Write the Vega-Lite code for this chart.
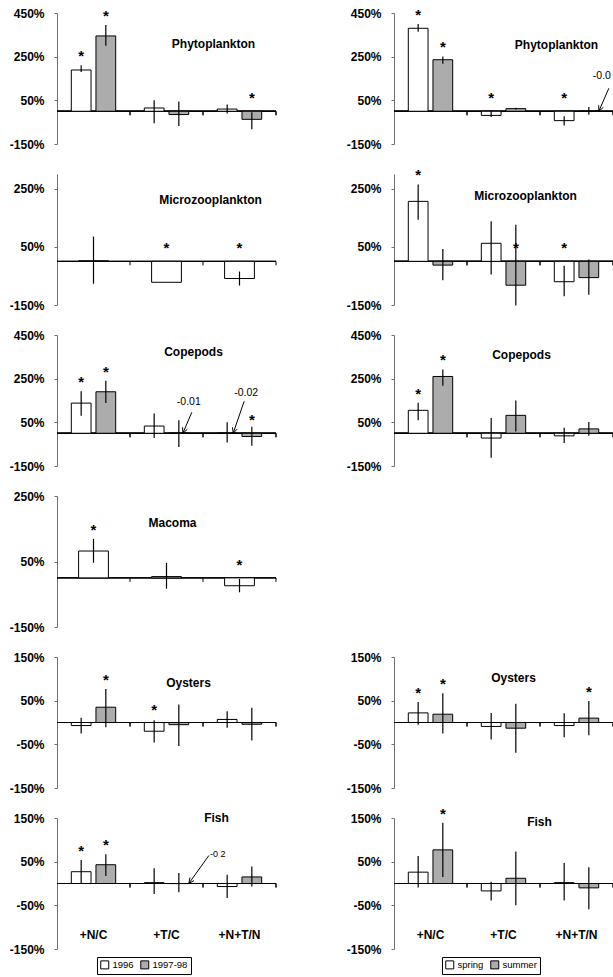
{
"$schema":"https://vega.github.io/schema/vega-lite/v6.json",
"padding":{"left":9,"top":7,"right":0,"bottom":0},
"autosize":{"type":"pad"},
"background":"white",
"config":{
 "font":"Liberation Sans",
 "view":{"stroke":null},
 "axisY":{"domainColor":"#707070","domainWidth":1,"tickColor":"#707070","tickSize":3,"labelPadding":10,"labelFontSize":12,"labelFontWeight":"bold","labelColor":"black","grid":false,"labelFlush":false,"labelOverlap":false},
 "axisX":{"domain":false,"ticks":false,"labels":false,"grid":false}
},
"datasets":{"bars":[
{"side":"L","panel":"Phyto","group":"+N/C","series":"1996","value":189,"lo":180,"hi":211,"star":1},
{"side":"L","panel":"Phyto","group":"+N/C","series":"1997-98","value":345,"lo":300,"hi":395,"star":1},
{"side":"L","panel":"Phyto","group":"+T/C","series":"1996","value":15,"lo":-55,"hi":50},
{"side":"L","panel":"Phyto","group":"+T/C","series":"1997-98","value":-15,"lo":-67,"hi":45},
{"side":"L","panel":"Phyto","group":"+N+T/N","series":"1996","value":10,"lo":-10,"hi":31},
{"side":"L","panel":"Phyto","group":"+N+T/N","series":"1997-98","value":-37,"lo":-82,"hi":-5,"star":1},
{"side":"R","panel":"Phyto","group":"+N/C","series":"spring","value":380,"lo":364,"hi":400,"star":1},
{"side":"R","panel":"Phyto","group":"+N/C","series":"summer","value":236,"lo":217,"hi":251,"star":1},
{"side":"R","panel":"Phyto","group":"+T/C","series":"spring","value":-19,"lo":-26,"hi":3,"star":1},
{"side":"R","panel":"Phyto","group":"+T/C","series":"summer","value":12,"lo":8,"hi":16},
{"side":"R","panel":"Phyto","group":"+N+T/N","series":"spring","value":-43,"lo":-65,"hi":-23,"star":1},
{"side":"R","panel":"Phyto","group":"+N+T/N","series":"summer","value":-0.01,"lo":-16,"hi":19,"note":"-0.01"},
{"side":"L","panel":"Micro","group":"+N/C","series":"1996","value":2,"lo":-77,"hi":85},
{"side":"L","panel":"Micro","group":"+T/C","series":"1996","value":-72,"lo":null,"hi":null,"star":1},
{"side":"L","panel":"Micro","group":"+N+T/N","series":"1996","value":-59,"lo":-83,"hi":-35,"star":1},
{"side":"R","panel":"Micro","group":"+N/C","series":"spring","value":206,"lo":143,"hi":264,"star":1},
{"side":"R","panel":"Micro","group":"+N/C","series":"summer","value":-13,"lo":-65,"hi":42},
{"side":"R","panel":"Micro","group":"+T/C","series":"spring","value":62,"lo":-45,"hi":138},
{"side":"R","panel":"Micro","group":"+T/C","series":"summer","value":-82,"lo":-152,"hi":126,"star":1},
{"side":"R","panel":"Micro","group":"+N+T/N","series":"spring","value":-70,"lo":-120,"hi":-15,"star":1},
{"side":"R","panel":"Micro","group":"+N+T/N","series":"summer","value":-56,"lo":-115,"hi":6},
{"side":"L","panel":"Cope","group":"+N/C","series":"1996","value":138,"lo":80,"hi":192,"star":1},
{"side":"L","panel":"Cope","group":"+N/C","series":"1997-98","value":190,"lo":138,"hi":240,"star":1},
{"side":"L","panel":"Cope","group":"+T/C","series":"1996","value":33,"lo":-22,"hi":90},
{"side":"L","panel":"Cope","group":"+T/C","series":"1997-98","value":-0.01,"lo":-63,"hi":60,"note":"-0.01"},
{"side":"L","panel":"Cope","group":"+N+T/N","series":"1996","value":-0.02,"lo":-42,"hi":50,"note":"-0.02"},
{"side":"L","panel":"Cope","group":"+N+T/N","series":"1997-98","value":-15,"lo":-57,"hi":30,"star":1},
{"side":"R","panel":"Cope","group":"+N/C","series":"spring","value":105,"lo":60,"hi":140,"star":1},
{"side":"R","panel":"Cope","group":"+N/C","series":"summer","value":260,"lo":218,"hi":292,"star":1},
{"side":"R","panel":"Cope","group":"+T/C","series":"spring","value":-22,"lo":-112,"hi":70},
{"side":"R","panel":"Cope","group":"+T/C","series":"summer","value":82,"lo":8,"hi":150},
{"side":"R","panel":"Cope","group":"+N+T/N","series":"spring","value":-12,"lo":-45,"hi":25},
{"side":"R","panel":"Cope","group":"+N+T/N","series":"summer","value":20,"lo":-12,"hi":52},
{"side":"L","panel":"Macoma","group":"+N/C","series":"1996","value":82,"lo":46,"hi":119,"star":1},
{"side":"L","panel":"Macoma","group":"+T/C","series":"1996","value":4,"lo":-33,"hi":46},
{"side":"L","panel":"Macoma","group":"+N+T/N","series":"1996","value":-24,"lo":-44,"hi":-3,"star":1},
{"side":"L","panel":"Oysters","group":"+N/C","series":"1996","value":-7,"lo":-25,"hi":11},
{"side":"L","panel":"Oysters","group":"+N/C","series":"1997-98","value":35,"lo":-11,"hi":77,"star":1},
{"side":"L","panel":"Oysters","group":"+T/C","series":"1996","value":-20,"lo":-46,"hi":5,"star":1},
{"side":"L","panel":"Oysters","group":"+T/C","series":"1997-98","value":-5,"lo":-54,"hi":41},
{"side":"L","panel":"Oysters","group":"+N+T/N","series":"1996","value":7,"lo":-12,"hi":26},
{"side":"L","panel":"Oysters","group":"+N+T/N","series":"1997-98","value":-4,"lo":-41,"hi":34},
{"side":"R","panel":"Oysters","group":"+N/C","series":"spring","value":22,"lo":-5,"hi":47,"star":1},
{"side":"R","panel":"Oysters","group":"+N/C","series":"summer","value":19,"lo":-25,"hi":67,"star":1},
{"side":"R","panel":"Oysters","group":"+T/C","series":"spring","value":-9,"lo":-39,"hi":22},
{"side":"R","panel":"Oysters","group":"+T/C","series":"summer","value":-13,"lo":-69,"hi":43},
{"side":"R","panel":"Oysters","group":"+N+T/N","series":"spring","value":-7,"lo":-34,"hi":21},
{"side":"R","panel":"Oysters","group":"+N+T/N","series":"summer","value":10,"lo":-29,"hi":49,"star":1},
{"side":"L","panel":"Fish","group":"+N/C","series":"1996","value":27,"lo":0,"hi":54,"star":1},
{"side":"L","panel":"Fish","group":"+N/C","series":"1997-98","value":43,"lo":17,"hi":67,"star":1},
{"side":"L","panel":"Fish","group":"+T/C","series":"1996","value":2,"lo":-24,"hi":35},
{"side":"L","panel":"Fish","group":"+T/C","series":"1997-98","value":-0.2,"lo":-20,"hi":24,"note":"-0 2"},
{"side":"L","panel":"Fish","group":"+N+T/N","series":"1996","value":-7,"lo":-33,"hi":20},
{"side":"L","panel":"Fish","group":"+N+T/N","series":"1997-98","value":15,"lo":-7,"hi":39},
{"side":"R","panel":"Fish","group":"+N/C","series":"spring","value":26,"lo":-9,"hi":63},
{"side":"R","panel":"Fish","group":"+N/C","series":"summer","value":77,"lo":15,"hi":139,"star":1},
{"side":"R","panel":"Fish","group":"+T/C","series":"spring","value":-17,"lo":-39,"hi":4},
{"side":"R","panel":"Fish","group":"+T/C","series":"summer","value":12,"lo":-50,"hi":73},
{"side":"R","panel":"Fish","group":"+N+T/N","series":"spring","value":2,"lo":-39,"hi":47},
{"side":"R","panel":"Fish","group":"+N+T/N","series":"summer","value":-10,"lo":-59,"hi":37}
]},
"columns":2,
"bounds":"flush",
"spacing":{"row":30,"column":118},
"resolve":{"scale":{"x":"independent","y":"independent","xOffset":"independent","fill":"independent"},"legend":{"fill":"independent"}},
"concat":[
{"width":219,"height":131,"data":{"name":"bars"},"transform":[{"filter":"datum.side=='L' && datum.panel=='Phyto'"}],
 "layer":[
  {"mark":{"type":"rule","color":"black","strokeWidth":1},"encoding":{"y":{"datum":0}}},
  {"mark":{"type":"rule","color":"black","y2Offset":4},"encoding":{"x":{"field":"group","type":"nominal","title":null,"bandPosition":1},"y":{"datum":0},"y2":{"datum":0}}},
  {"mark":{"type":"bar","stroke":"black","strokeWidth":1},"encoding":{
    "x":{"field":"group","type":"nominal","title":null,"scale":{"domain":["+N/C","+T/C","+N+T/N"],"paddingInner":0,"paddingOuter":0}},
    "xOffset":{"field":"series","type":"nominal","scale":{"domain":["1996","1997-98"],"paddingInner":0.2,"paddingOuter":0.58}},
    "y":{"field":"value","type":"quantitative","stack":null,"title":null,"scale":{"domain":[-150,450],"nice":false,"zero":false},"axis":{"values":[-150,50,250,450],"labelExpr":"datum.value + '%'"}},
    "fill":{"field":"series","type":"nominal","scale":{"domain":["1996","1997-98"],"range":["#ffffff","#acacac"]},"legend":null}}},
  {"mark":{"type":"rule","color":"black","strokeWidth":1.2},"encoding":{"x":{"field":"group","type":"nominal","title":null},"xOffset":{"field":"series","type":"nominal"},"y":{"field":"lo","type":"quantitative","title":null},"y2":{"field":"hi"}}},
  {"transform":[{"filter":"datum.star && datum.value >= 0"}],"mark":{"type":"text","text":"*","fontSize":15,"fontWeight":"bold","dy":-9},"encoding":{"x":{"field":"group","type":"nominal","title":null},"xOffset":{"field":"series","type":"nominal"},"y":{"field":"hi","type":"quantitative","title":null}}},
  {"transform":[{"filter":"datum.star && datum.value < 0"}],"mark":{"type":"text","text":"*","fontSize":15,"fontWeight":"bold","dy":-13},"encoding":{"x":{"field":"group","type":"nominal","title":null},"xOffset":{"field":"series","type":"nominal"},"y":{"datum":0}}},
  {"data":{"values":[{"t":"Phytoplankton"}]},"mark":{"type":"text","fontWeight":"bold","fontSize":12,"dx":-26},"encoding":{"text":{"field":"t"},"x":{"datum":"+N+T/N"},"y":{"datum":308}}}
 ]},
{"width":219,"height":131,"data":{"name":"bars"},"transform":[{"filter":"datum.side=='R' && datum.panel=='Phyto'"}],
 "layer":[
  {"mark":{"type":"rule","color":"black","strokeWidth":1},"encoding":{"y":{"datum":0}}},
  {"mark":{"type":"rule","color":"black","y2Offset":4},"encoding":{"x":{"field":"group","type":"nominal","title":null,"bandPosition":1},"y":{"datum":0},"y2":{"datum":0}}},
  {"mark":{"type":"bar","stroke":"black","strokeWidth":1},"encoding":{
    "x":{"field":"group","type":"nominal","title":null,"scale":{"domain":["+N/C","+T/C","+N+T/N"],"paddingInner":0,"paddingOuter":0}},
    "xOffset":{"field":"series","type":"nominal","scale":{"domain":["spring","summer"],"paddingInner":0.2,"paddingOuter":0.58}},
    "y":{"field":"value","type":"quantitative","stack":null,"title":null,"scale":{"domain":[-150,450],"nice":false,"zero":false},"axis":{"values":[-150,50,250,450],"labelExpr":"datum.value + '%'"}},
    "fill":{"field":"series","type":"nominal","scale":{"domain":["spring","summer"],"range":["#ffffff","#acacac"]},"legend":null}}},
  {"mark":{"type":"rule","color":"black","strokeWidth":1.2},"encoding":{"x":{"field":"group","type":"nominal","title":null},"xOffset":{"field":"series","type":"nominal"},"y":{"field":"lo","type":"quantitative","title":null},"y2":{"field":"hi"}}},
  {"transform":[{"filter":"datum.star && datum.value >= 0"}],"mark":{"type":"text","text":"*","fontSize":15,"fontWeight":"bold","dy":-9},"encoding":{"x":{"field":"group","type":"nominal","title":null},"xOffset":{"field":"series","type":"nominal"},"y":{"field":"hi","type":"quantitative","title":null}}},
  {"transform":[{"filter":"datum.star && datum.value < 0"}],"mark":{"type":"text","text":"*","fontSize":15,"fontWeight":"bold","dy":-13},"encoding":{"x":{"field":"group","type":"nominal","title":null},"xOffset":{"field":"series","type":"nominal"},"y":{"datum":0}}},
  {"transform":[{"filter":"datum.note"}],"mark":{"type":"text","align":"left","fontSize":10.5,"dx":4,"dy":-35,"limit":20,"ellipsis":"\u200b"},"encoding":{"text":{"field":"note"},"x":{"field":"group","type":"nominal","title":null},"xOffset":{"field":"series","type":"nominal"},"y":{"datum":0}}},
  {"transform":[{"filter":"datum.note"}],"mark":{"type":"point","shape":"M2,0L4,-4.6M2.9,-0.79L2,0L1.97,-1.2","size":100,"filled":false,"stroke":"black","strokeWidth":1,"opacity":1},"encoding":{"x":{"field":"group","type":"nominal","title":null},"xOffset":{"field":"series","type":"nominal"},"y":{"datum":0}}},
  {"data":{"values":[{"t":"Phytoplankton"}]},"mark":{"type":"text","fontWeight":"bold","fontSize":12,"dx":-20},"encoding":{"text":{"field":"t"},"x":{"datum":"+N+T/N"},"y":{"datum":303}}}
 ]},
{"width":219,"height":131,"data":{"name":"bars"},"transform":[{"filter":"datum.side=='L' && datum.panel=='Micro'"}],
 "layer":[
  {"mark":{"type":"rule","color":"black","strokeWidth":1},"encoding":{"y":{"datum":0}}},
  {"mark":{"type":"rule","color":"black","y2Offset":4},"encoding":{"x":{"field":"group","type":"nominal","title":null,"bandPosition":1},"y":{"datum":0},"y2":{"datum":0}}},
  {"mark":{"type":"bar","stroke":"black","strokeWidth":1},"encoding":{
    "x":{"field":"group","type":"nominal","title":null,"scale":{"domain":["+N/C","+T/C","+N+T/N"],"paddingInner":0,"paddingOuter":0}},
    "xOffset":{"field":"series","type":"nominal","scale":{"domain":["1996"],"paddingInner":0.2,"paddingOuter":0.58}},
    "y":{"field":"value","type":"quantitative","stack":null,"title":null,"scale":{"domain":[-150,300],"nice":false,"zero":false},"axis":{"values":[-150,50,250],"labelExpr":"datum.value + '%'"}},
    "fill":{"field":"series","type":"nominal","scale":{"domain":["1996","1997-98"],"range":["#ffffff","#acacac"]},"legend":null}}},
  {"mark":{"type":"rule","color":"black","strokeWidth":1.2},"encoding":{"x":{"field":"group","type":"nominal","title":null},"xOffset":{"field":"series","type":"nominal"},"y":{"field":"lo","type":"quantitative","title":null},"y2":{"field":"hi"}}},
  {"transform":[{"filter":"datum.star && datum.value >= 0"}],"mark":{"type":"text","text":"*","fontSize":15,"fontWeight":"bold","dy":-9},"encoding":{"x":{"field":"group","type":"nominal","title":null},"xOffset":{"field":"series","type":"nominal"},"y":{"field":"hi","type":"quantitative","title":null}}},
  {"transform":[{"filter":"datum.star && datum.value < 0"}],"mark":{"type":"text","text":"*","fontSize":15,"fontWeight":"bold","dy":-13},"encoding":{"x":{"field":"group","type":"nominal","title":null},"xOffset":{"field":"series","type":"nominal"},"y":{"datum":0}}},
  {"data":{"values":[{"t":"Microzooplankton"}]},"mark":{"type":"text","fontWeight":"bold","fontSize":12,"dx":-29},"encoding":{"text":{"field":"t"},"x":{"datum":"+N+T/N"},"y":{"datum":211}}}
 ]},
{"width":219,"height":131,"data":{"name":"bars"},"transform":[{"filter":"datum.side=='R' && datum.panel=='Micro'"}],
 "layer":[
  {"mark":{"type":"rule","color":"black","strokeWidth":1},"encoding":{"y":{"datum":0}}},
  {"mark":{"type":"rule","color":"black","y2Offset":4},"encoding":{"x":{"field":"group","type":"nominal","title":null,"bandPosition":1},"y":{"datum":0},"y2":{"datum":0}}},
  {"mark":{"type":"bar","stroke":"black","strokeWidth":1},"encoding":{
    "x":{"field":"group","type":"nominal","title":null,"scale":{"domain":["+N/C","+T/C","+N+T/N"],"paddingInner":0,"paddingOuter":0}},
    "xOffset":{"field":"series","type":"nominal","scale":{"domain":["spring","summer"],"paddingInner":0.2,"paddingOuter":0.58}},
    "y":{"field":"value","type":"quantitative","stack":null,"title":null,"scale":{"domain":[-150,300],"nice":false,"zero":false},"axis":{"values":[-150,50,250],"labelExpr":"datum.value + '%'"}},
    "fill":{"field":"series","type":"nominal","scale":{"domain":["spring","summer"],"range":["#ffffff","#acacac"]},"legend":null}}},
  {"mark":{"type":"rule","color":"black","strokeWidth":1.2},"encoding":{"x":{"field":"group","type":"nominal","title":null},"xOffset":{"field":"series","type":"nominal"},"y":{"field":"lo","type":"quantitative","title":null},"y2":{"field":"hi"}}},
  {"transform":[{"filter":"datum.star && datum.value >= 0"}],"mark":{"type":"text","text":"*","fontSize":15,"fontWeight":"bold","dy":-9},"encoding":{"x":{"field":"group","type":"nominal","title":null},"xOffset":{"field":"series","type":"nominal"},"y":{"field":"hi","type":"quantitative","title":null}}},
  {"transform":[{"filter":"datum.star && datum.value < 0"}],"mark":{"type":"text","text":"*","fontSize":15,"fontWeight":"bold","dy":-13},"encoding":{"x":{"field":"group","type":"nominal","title":null},"xOffset":{"field":"series","type":"nominal"},"y":{"datum":0}}},
  {"data":{"values":[{"t":"Microzooplankton"}]},"mark":{"type":"text","fontWeight":"bold","fontSize":12,"dx":22},"encoding":{"text":{"field":"t"},"x":{"datum":"+T/C"},"y":{"datum":224}}}
 ]},
{"width":219,"height":131,"data":{"name":"bars"},"transform":[{"filter":"datum.side=='L' && datum.panel=='Cope'"}],
 "layer":[
  {"mark":{"type":"rule","color":"black","strokeWidth":1},"encoding":{"y":{"datum":0}}},
  {"mark":{"type":"rule","color":"black","y2Offset":4},"encoding":{"x":{"field":"group","type":"nominal","title":null,"bandPosition":1},"y":{"datum":0},"y2":{"datum":0}}},
  {"mark":{"type":"bar","stroke":"black","strokeWidth":1},"encoding":{
    "x":{"field":"group","type":"nominal","title":null,"scale":{"domain":["+N/C","+T/C","+N+T/N"],"paddingInner":0,"paddingOuter":0}},
    "xOffset":{"field":"series","type":"nominal","scale":{"domain":["1996","1997-98"],"paddingInner":0.2,"paddingOuter":0.58}},
    "y":{"field":"value","type":"quantitative","stack":null,"title":null,"scale":{"domain":[-150,450],"nice":false,"zero":false},"axis":{"values":[-150,50,250,450],"labelExpr":"datum.value + '%'"}},
    "fill":{"field":"series","type":"nominal","scale":{"domain":["1996","1997-98"],"range":["#ffffff","#acacac"]},"legend":null}}},
  {"mark":{"type":"rule","color":"black","strokeWidth":1.2},"encoding":{"x":{"field":"group","type":"nominal","title":null},"xOffset":{"field":"series","type":"nominal"},"y":{"field":"lo","type":"quantitative","title":null},"y2":{"field":"hi"}}},
  {"transform":[{"filter":"datum.star && datum.value >= 0"}],"mark":{"type":"text","text":"*","fontSize":15,"fontWeight":"bold","dy":-9},"encoding":{"x":{"field":"group","type":"nominal","title":null},"xOffset":{"field":"series","type":"nominal"},"y":{"field":"hi","type":"quantitative","title":null}}},
  {"transform":[{"filter":"datum.star && datum.value < 0"}],"mark":{"type":"text","text":"*","fontSize":15,"fontWeight":"bold","dy":-13},"encoding":{"x":{"field":"group","type":"nominal","title":null},"xOffset":{"field":"series","type":"nominal"},"y":{"datum":0}}},
  {"transform":[{"filter":"datum.note == '-0.01'"}],"mark":{"type":"text","fontSize":10.5,"dx":10,"dy":-31},"encoding":{"text":{"field":"note"},"x":{"field":"group","type":"nominal","title":null},"xOffset":{"field":"series","type":"nominal"},"y":{"datum":0}}},
  {"transform":[{"filter":"datum.note == '-0.01'"}],"mark":{"type":"point","shape":"M0.8,0L2.6,-4.2M1.7,-0.8L0.8,0L0.76,-1.2","size":100,"filled":false,"stroke":"black","strokeWidth":1,"opacity":1},"encoding":{"x":{"field":"group","type":"nominal","title":null},"xOffset":{"field":"series","type":"nominal"},"y":{"datum":0}}},
  {"transform":[{"filter":"datum.note == '-0.02'"}],"mark":{"type":"text","fontSize":10.5,"dx":19,"dy":-40},"encoding":{"text":{"field":"note"},"x":{"field":"group","type":"nominal","title":null},"xOffset":{"field":"series","type":"nominal"},"y":{"datum":0}}},
  {"transform":[{"filter":"datum.note == '-0.02'"}],"mark":{"type":"point","shape":"M1.2,0L3.4,-6.4M2.03,-0.86L1.2,0L1.07,-1.19","size":100,"filled":false,"stroke":"black","strokeWidth":1,"opacity":1},"encoding":{"x":{"field":"group","type":"nominal","title":null},"xOffset":{"field":"series","type":"nominal"},"y":{"datum":0}}},
  {"data":{"values":[{"t":"Copepods"}]},"mark":{"type":"text","fontWeight":"bold","fontSize":12,"dx":27},"encoding":{"text":{"field":"t"},"x":{"datum":"+T/C"},"y":{"datum":372}}}
 ]},
{"width":219,"height":131,"data":{"name":"bars"},"transform":[{"filter":"datum.side=='R' && datum.panel=='Cope'"}],
 "layer":[
  {"mark":{"type":"rule","color":"black","strokeWidth":1},"encoding":{"y":{"datum":0}}},
  {"mark":{"type":"rule","color":"black","y2Offset":4},"encoding":{"x":{"field":"group","type":"nominal","title":null,"bandPosition":1},"y":{"datum":0},"y2":{"datum":0}}},
  {"mark":{"type":"bar","stroke":"black","strokeWidth":1},"encoding":{
    "x":{"field":"group","type":"nominal","title":null,"scale":{"domain":["+N/C","+T/C","+N+T/N"],"paddingInner":0,"paddingOuter":0}},
    "xOffset":{"field":"series","type":"nominal","scale":{"domain":["spring","summer"],"paddingInner":0.2,"paddingOuter":0.58}},
    "y":{"field":"value","type":"quantitative","stack":null,"title":null,"scale":{"domain":[-150,450],"nice":false,"zero":false},"axis":{"values":[-150,50,250,450],"labelExpr":"datum.value + '%'"}},
    "fill":{"field":"series","type":"nominal","scale":{"domain":["spring","summer"],"range":["#ffffff","#acacac"]},"legend":null}}},
  {"mark":{"type":"rule","color":"black","strokeWidth":1.2},"encoding":{"x":{"field":"group","type":"nominal","title":null},"xOffset":{"field":"series","type":"nominal"},"y":{"field":"lo","type":"quantitative","title":null},"y2":{"field":"hi"}}},
  {"transform":[{"filter":"datum.star && datum.value >= 0"}],"mark":{"type":"text","text":"*","fontSize":15,"fontWeight":"bold","dy":-9},"encoding":{"x":{"field":"group","type":"nominal","title":null},"xOffset":{"field":"series","type":"nominal"},"y":{"field":"hi","type":"quantitative","title":null}}},
  {"data":{"values":[{"t":"Copepods"}]},"mark":{"type":"text","fontWeight":"bold","fontSize":12,"dx":18},"encoding":{"text":{"field":"t"},"x":{"datum":"+T/C"},"y":{"datum":358}}}
 ]},
{"width":219,"height":131,"data":{"name":"bars"},"transform":[{"filter":"datum.side=='L' && datum.panel=='Macoma'"}],
 "layer":[
  {"mark":{"type":"rule","color":"black","strokeWidth":1},"encoding":{"y":{"datum":0}}},
  {"mark":{"type":"rule","color":"black","y2Offset":4},"encoding":{"x":{"field":"group","type":"nominal","title":null,"bandPosition":1},"y":{"datum":0},"y2":{"datum":0}}},
  {"mark":{"type":"bar","stroke":"black","strokeWidth":1},"encoding":{
    "x":{"field":"group","type":"nominal","title":null,"scale":{"domain":["+N/C","+T/C","+N+T/N"],"paddingInner":0,"paddingOuter":0}},
    "xOffset":{"field":"series","type":"nominal","scale":{"domain":["1996"],"paddingInner":0.2,"paddingOuter":0.58}},
    "y":{"field":"value","type":"quantitative","stack":null,"title":null,"scale":{"domain":[-150,250],"nice":false,"zero":false},"axis":{"values":[-150,50,250],"labelExpr":"datum.value + '%'"}},
    "fill":{"field":"series","type":"nominal","scale":{"domain":["1996","1997-98"],"range":["#ffffff","#acacac"]},"legend":null}}},
  {"mark":{"type":"rule","color":"black","strokeWidth":1.2},"encoding":{"x":{"field":"group","type":"nominal","title":null},"xOffset":{"field":"series","type":"nominal"},"y":{"field":"lo","type":"quantitative","title":null},"y2":{"field":"hi"}}},
  {"transform":[{"filter":"datum.star && datum.value >= 0"}],"mark":{"type":"text","text":"*","fontSize":15,"fontWeight":"bold","dy":-9},"encoding":{"x":{"field":"group","type":"nominal","title":null},"xOffset":{"field":"series","type":"nominal"},"y":{"field":"hi","type":"quantitative","title":null}}},
  {"transform":[{"filter":"datum.star && datum.value < 0"}],"mark":{"type":"text","text":"*","fontSize":15,"fontWeight":"bold","dy":-13},"encoding":{"x":{"field":"group","type":"nominal","title":null},"xOffset":{"field":"series","type":"nominal"},"y":{"datum":0}}},
  {"data":{"values":[{"t":"Macoma"}]},"mark":{"type":"text","fontWeight":"bold","fontSize":12,"dx":6},"encoding":{"text":{"field":"t"},"x":{"datum":"+T/C"},"y":{"datum":168}}}
 ]},
{"width":219,"height":131,"data":{"values":[]},"mark":"point"},
{"width":219,"height":131,"data":{"name":"bars"},"transform":[{"filter":"datum.side=='L' && datum.panel=='Oysters'"}],
 "layer":[
  {"mark":{"type":"rule","color":"black","strokeWidth":1},"encoding":{"y":{"datum":0}}},
  {"mark":{"type":"rule","color":"black","y2Offset":4},"encoding":{"x":{"field":"group","type":"nominal","title":null,"bandPosition":1},"y":{"datum":0},"y2":{"datum":0}}},
  {"mark":{"type":"bar","stroke":"black","strokeWidth":1},"encoding":{
    "x":{"field":"group","type":"nominal","title":null,"scale":{"domain":["+N/C","+T/C","+N+T/N"],"paddingInner":0,"paddingOuter":0}},
    "xOffset":{"field":"series","type":"nominal","scale":{"domain":["1996","1997-98"],"paddingInner":0.2,"paddingOuter":0.58}},
    "y":{"field":"value","type":"quantitative","stack":null,"title":null,"scale":{"domain":[-150,150],"nice":false,"zero":false},"axis":{"values":[-150,-50,50,150],"labelExpr":"datum.value + '%'"}},
    "fill":{"field":"series","type":"nominal","scale":{"domain":["1996","1997-98"],"range":["#ffffff","#acacac"]},"legend":null}}},
  {"mark":{"type":"rule","color":"black","strokeWidth":1.2},"encoding":{"x":{"field":"group","type":"nominal","title":null},"xOffset":{"field":"series","type":"nominal"},"y":{"field":"lo","type":"quantitative","title":null},"y2":{"field":"hi"}}},
  {"transform":[{"filter":"datum.star && datum.value >= 0"}],"mark":{"type":"text","text":"*","fontSize":15,"fontWeight":"bold","dy":-9},"encoding":{"x":{"field":"group","type":"nominal","title":null},"xOffset":{"field":"series","type":"nominal"},"y":{"field":"hi","type":"quantitative","title":null}}},
  {"transform":[{"filter":"datum.star && datum.value < 0"}],"mark":{"type":"text","text":"*","fontSize":15,"fontWeight":"bold","dy":-13},"encoding":{"x":{"field":"group","type":"nominal","title":null},"xOffset":{"field":"series","type":"nominal"},"y":{"datum":0}}},
  {"data":{"values":[{"t":"Oysters"}]},"mark":{"type":"text","fontWeight":"bold","fontSize":12,"dx":22},"encoding":{"text":{"field":"t"},"x":{"datum":"+T/C"},"y":{"datum":90}}}
 ]},
{"width":219,"height":131,"data":{"name":"bars"},"transform":[{"filter":"datum.side=='R' && datum.panel=='Oysters'"}],
 "layer":[
  {"mark":{"type":"rule","color":"black","strokeWidth":1},"encoding":{"y":{"datum":0}}},
  {"mark":{"type":"rule","color":"black","y2Offset":4},"encoding":{"x":{"field":"group","type":"nominal","title":null,"bandPosition":1},"y":{"datum":0},"y2":{"datum":0}}},
  {"mark":{"type":"bar","stroke":"black","strokeWidth":1},"encoding":{
    "x":{"field":"group","type":"nominal","title":null,"scale":{"domain":["+N/C","+T/C","+N+T/N"],"paddingInner":0,"paddingOuter":0}},
    "xOffset":{"field":"series","type":"nominal","scale":{"domain":["spring","summer"],"paddingInner":0.2,"paddingOuter":0.58}},
    "y":{"field":"value","type":"quantitative","stack":null,"title":null,"scale":{"domain":[-150,150],"nice":false,"zero":false},"axis":{"values":[-150,-50,50,150],"labelExpr":"datum.value + '%'"}},
    "fill":{"field":"series","type":"nominal","scale":{"domain":["spring","summer"],"range":["#ffffff","#acacac"]},"legend":null}}},
  {"mark":{"type":"rule","color":"black","strokeWidth":1.2},"encoding":{"x":{"field":"group","type":"nominal","title":null},"xOffset":{"field":"series","type":"nominal"},"y":{"field":"lo","type":"quantitative","title":null},"y2":{"field":"hi"}}},
  {"transform":[{"filter":"datum.star && datum.value >= 0"}],"mark":{"type":"text","text":"*","fontSize":15,"fontWeight":"bold","dy":-9},"encoding":{"x":{"field":"group","type":"nominal","title":null},"xOffset":{"field":"series","type":"nominal"},"y":{"field":"hi","type":"quantitative","title":null}}},
  {"data":{"values":[{"t":"Oysters"}]},"mark":{"type":"text","fontWeight":"bold","fontSize":12,"dx":10},"encoding":{"text":{"field":"t"},"x":{"datum":"+T/C"},"y":{"datum":102}}}
 ]},
{"width":219,"height":131,"data":{"name":"bars"},"transform":[{"filter":"datum.side=='L' && datum.panel=='Fish'"}],
 "layer":[
  {"mark":{"type":"rule","color":"black","strokeWidth":1},"encoding":{"y":{"datum":0}}},
  {"mark":{"type":"rule","color":"black","y2Offset":4},"encoding":{"x":{"field":"group","type":"nominal","title":null,"bandPosition":1},"y":{"datum":0},"y2":{"datum":0}}},
  {"mark":{"type":"bar","stroke":"black","strokeWidth":1},"encoding":{
    "x":{"field":"group","type":"nominal","title":null,"scale":{"domain":["+N/C","+T/C","+N+T/N"],"paddingInner":0,"paddingOuter":0},"axis":{"labels":true,"labelPadding":-20,"labelFontSize":12,"labelFontWeight":"bold","labelColor":"black","labelAngle":0,"labelAlign":"center","labelBaseline":"top","bandPosition":0.5}},
    "xOffset":{"field":"series","type":"nominal","scale":{"domain":["1996","1997-98"],"paddingInner":0.2,"paddingOuter":0.58}},
    "y":{"field":"value","type":"quantitative","stack":null,"title":null,"scale":{"domain":[-150,150],"nice":false,"zero":false},"axis":{"values":[-150,-50,50,150],"labelExpr":"datum.value + '%'"}},
    "fill":{"field":"series","type":"nominal","scale":{"domain":["1996","1997-98"],"range":["#ffffff","#acacac"]},"legend":{"orient":"none","legendX":40,"legendY":139,"direction":"horizontal","title":null,"symbolType":"square","symbolSize":64,"symbolStrokeColor":"black","symbolStrokeWidth":1,"labelFontSize":9.5,"labelColor":"black","labelOffset":3,"strokeColor":"black","padding":3,"columnPadding":4}}}},
  {"mark":{"type":"rule","color":"black","strokeWidth":1.2},"encoding":{"x":{"field":"group","type":"nominal","title":null},"xOffset":{"field":"series","type":"nominal"},"y":{"field":"lo","type":"quantitative","title":null},"y2":{"field":"hi"}}},
  {"transform":[{"filter":"datum.star && datum.value >= 0"}],"mark":{"type":"text","text":"*","fontSize":15,"fontWeight":"bold","dy":-9},"encoding":{"x":{"field":"group","type":"nominal","title":null},"xOffset":{"field":"series","type":"nominal"},"y":{"field":"hi","type":"quantitative","title":null}}},
  {"transform":[{"filter":"datum.note"}],"mark":{"type":"text","fontSize":9,"dx":39,"dy":-30},"encoding":{"text":{"field":"note"},"x":{"field":"group","type":"nominal","title":null},"xOffset":{"field":"series","type":"nominal"},"y":{"datum":0}}},
  {"transform":[{"filter":"datum.note"}],"mark":{"type":"point","shape":"M2,0L6,-5.6M3.04,-0.59L2,0L2.22,-1.18","size":100,"filled":false,"stroke":"black","strokeWidth":1,"opacity":1},"encoding":{"x":{"field":"group","type":"nominal","title":null},"xOffset":{"field":"series","type":"nominal"},"y":{"datum":0}}},
  {"data":{"values":[{"t":"Fish"}]},"mark":{"type":"text","fontWeight":"bold","fontSize":12,"dx":-23},"encoding":{"text":{"field":"t"},"x":{"datum":"+N+T/N"},"y":{"datum":150}}}
 ]},
{"width":219,"height":131,"data":{"name":"bars"},"transform":[{"filter":"datum.side=='R' && datum.panel=='Fish'"}],
 "layer":[
  {"mark":{"type":"rule","color":"black","strokeWidth":1},"encoding":{"y":{"datum":0}}},
  {"mark":{"type":"rule","color":"black","y2Offset":4},"encoding":{"x":{"field":"group","type":"nominal","title":null,"bandPosition":1},"y":{"datum":0},"y2":{"datum":0}}},
  {"mark":{"type":"bar","stroke":"black","strokeWidth":1},"encoding":{
    "x":{"field":"group","type":"nominal","title":null,"scale":{"domain":["+N/C","+T/C","+N+T/N"],"paddingInner":0,"paddingOuter":0},"axis":{"labels":true,"labelPadding":-20,"labelFontSize":12,"labelFontWeight":"bold","labelColor":"black","labelAngle":0,"labelAlign":"center","labelBaseline":"top","bandPosition":0.5}},
    "xOffset":{"field":"series","type":"nominal","scale":{"domain":["spring","summer"],"paddingInner":0.2,"paddingOuter":0.58}},
    "y":{"field":"value","type":"quantitative","stack":null,"title":null,"scale":{"domain":[-150,150],"nice":false,"zero":false},"axis":{"values":[-150,-50,50,150],"labelExpr":"datum.value + '%'"}},
    "fill":{"field":"series","type":"nominal","scale":{"domain":["spring","summer"],"range":["#ffffff","#acacac"]},"legend":{"orient":"none","legendX":48,"legendY":139,"direction":"horizontal","title":null,"symbolType":"square","symbolSize":64,"symbolStrokeColor":"black","symbolStrokeWidth":1,"labelFontSize":9.5,"labelColor":"black","labelOffset":3,"strokeColor":"black","padding":3,"columnPadding":4}}}},
  {"mark":{"type":"rule","color":"black","strokeWidth":1.2},"encoding":{"x":{"field":"group","type":"nominal","title":null},"xOffset":{"field":"series","type":"nominal"},"y":{"field":"lo","type":"quantitative","title":null},"y2":{"field":"hi"}}},
  {"transform":[{"filter":"datum.star && datum.value >= 0"}],"mark":{"type":"text","text":"*","fontSize":15,"fontWeight":"bold","dy":-9},"encoding":{"x":{"field":"group","type":"nominal","title":null},"xOffset":{"field":"series","type":"nominal"},"y":{"field":"hi","type":"quantitative","title":null}}},
  {"data":{"values":[{"t":"Fish"}]},"mark":{"type":"text","fontWeight":"bold","fontSize":12,"dx":-37},"encoding":{"text":{"field":"t"},"x":{"datum":"+N+T/N"},"y":{"datum":141}}}
 ]}
]
}
